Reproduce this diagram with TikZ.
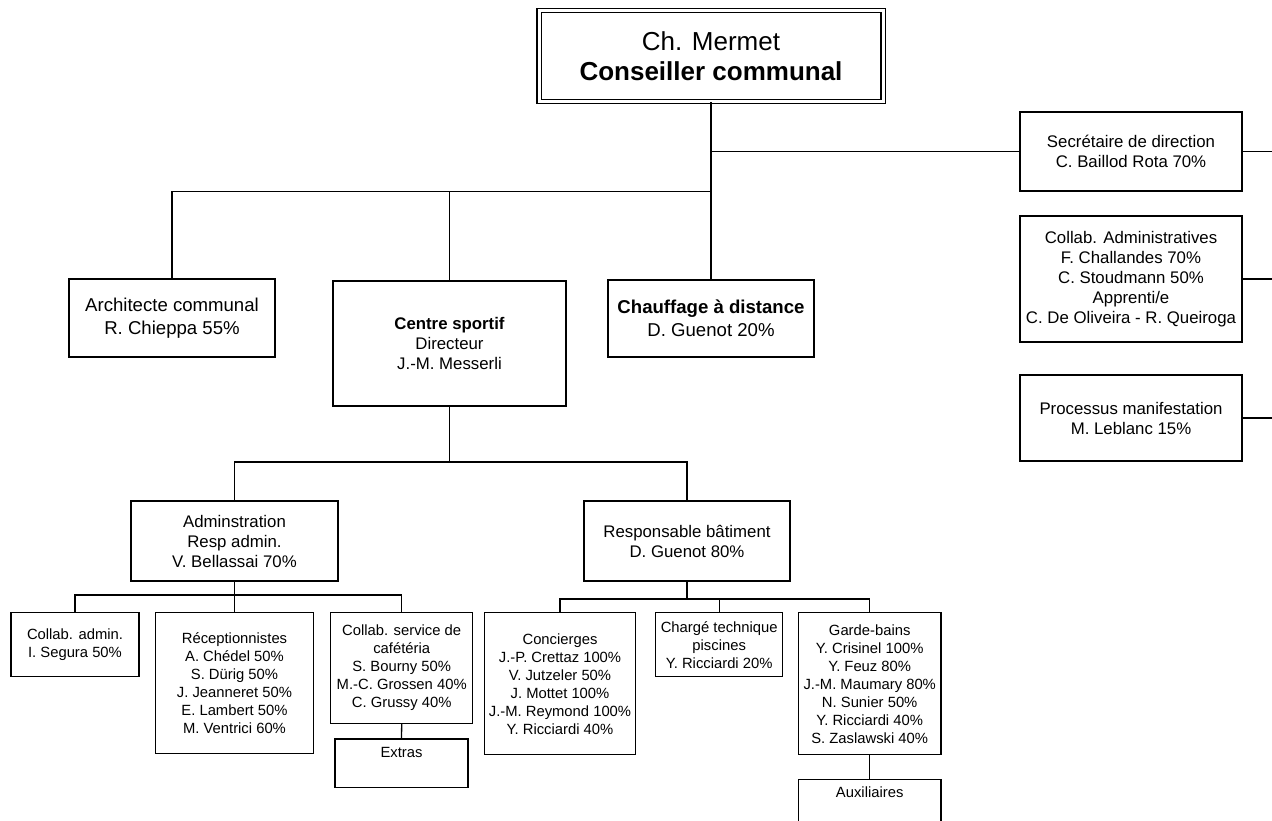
\documentclass[tikz,border=0pt]{standalone}
\usepackage{fontspec}
\setmainfont{Liberation Sans}
\usepackage{tikz}

\tikzset{
  box/.style={draw, line width=1.3pt, align=center, inner sep=1pt},
  link/.style={line width=1.3pt},
  chieftext/.style={font=\fontsize{26}{30}\selectfont},
  rowtwo/.style={font=\fontsize{18.6}{23}\selectfont},
  rowthree/.style={font=\fontsize{16.8}{20}\selectfont},
  leaftext/.style={font=\fontsize{14.8}{18}\selectfont},
}

\begin{document}
\begin{tikzpicture}[x=1pt, y=-1pt]
    \useasboundingbox (0,0) rectangle (1272,820);
    \clip (0,0) rectangle (1272,820);

    % draws head box
    \node[box, chieftext, double, line width=1.2pt, double distance=3pt,
          minimum width=344pt, minimum height=91pt] (chief) at (711,56)
          {Ch. Mermet\\\textbf{Conseiller communal}};

    % draws staff boxes on the right
    \node[box, rowthree, minimum width=222pt, minimum height=79pt] (sec) at (1131,151.5)
          {Secrétaire de direction\\C. Baillod Rota 70\%};
    \node[box, rowthree, minimum width=222pt, minimum height=126pt] (collab) at (1131,279)
          {Collab. Administratives\\F. Challandes 70\%\\C. Stoudmann 50\%\\Apprenti/e\\C. De Oliveira - R. Queiroga};
    \node[box, rowthree, minimum width=222pt, minimum height=86pt] (proc) at (1131,418)
          {Processus manifestation\\M. Leblanc 15\%};

    % draws second row
    \node[box, rowtwo, minimum width=206pt, minimum height=78pt] (arch) at (172,318)
          {Architecte communal\\R. Chieppa 55\%};
    \node[box, rowthree, minimum width=233pt, minimum height=125pt] (sport) at (449.5,343.5)
          {\textbf{Centre sportif}\\Directeur\\J.-M. Messerli};
    \node[box, rowtwo, minimum width=206pt, minimum height=77pt] (chauf) at (711,318.5)
          {\textbf{Chauffage à distance}\\D. Guenot 20\%};

    % draws third row
    \node[box, rowthree, minimum width=207pt, minimum height=80pt] (admin) at (234.5,541)
          {Adminstration\\Resp admin.\\V. Bellassai 70\%};
    \node[box, rowthree, minimum width=206pt, minimum height=80pt] (resp) at (687,541)
          {Responsable bâtiment\\D. Guenot 80\%};

    % draws bottom row
    \node[box, leaftext, minimum width=128pt, minimum height=64pt] (cadm) at (75,644.7)
          {Collab. admin.\\I. Segura 50\%};
    \node[box, leaftext, minimum width=158pt, minimum height=141pt] (recep) at (234.5,683)
          {Réceptionnistes\\A. Chédel 50\%\\S. Dürig 50\%\\J. Jeanneret 50\%\\E. Lambert 50\%\\M. Ventrici 60\%};
    \node[box, leaftext, minimum width=142pt, minimum height=110.6pt] (cafe) at (401.7,668)
          {Collab. service de\\cafétéria\\S. Bourny 50\%\\M.-C. Grossen 40\%\\C. Grussy 40\%};
    \node[box, minimum width=133pt, minimum height=48.3pt,
          label={[leaftext, anchor=north, inner sep=0pt, yshift=-8.5pt]north:Extras}] (extras) at (401.5,763.2) {};
    \node[box, leaftext, minimum width=150.6pt, minimum height=142pt] (conc) at (560,683.7)
          {Concierges\\J.-P. Crettaz 100\%\\V. Jutzeler 50\%\\J. Mottet 100\%\\J.-M. Reymond 100\%\\Y. Ricciardi 40\%};
    \node[box, leaftext, minimum width=127pt, minimum height=64pt] (tech) at (719.2,644.7)
          {Chargé technique\\piscines\\Y. Ricciardi 20\%};
    \node[box, leaftext, minimum width=142.7pt, minimum height=142pt] (garde) at (869.7,683.7)
          {Garde-bains\\Y. Crisinel 100\%\\Y. Feuz 80\%\\J.-M. Maumary 80\%\\N. Sunier 50\%\\Y. Ricciardi 40\%\\S. Zaslawski 40\%};
    \node[box, minimum width=142.7pt, minimum height=60pt,
          label={[leaftext, anchor=north, inner sep=0pt, yshift=-8pt]north:Auxiliaires}] (aux) at (869.7,809.3) {};

    % bus lines and right edge
    \coordinate (bus1) at (711,191.5);
    \coordinate (bus2) at (449.5,462);
    \coordinate (bus3) at (234.5,595);
    \coordinate (bus4) at (687,599);
    \coordinate (rim) at (1272,0);

    % draws connectors
    \draw[link] (chief.south) -- (chauf.north);
    \draw[link] (sec.west) -- (sec.west -| chief.south);
    \draw[link] (arch.north) |- (bus1);
    \draw[link] (sport.north) -- (sport.north |- bus1);
    \draw[link] (sec.east) -- (sec.east -| rim);
    \draw[link] (collab.east) -- (collab.east -| rim);
    \draw[link] (proc.east) -- (proc.east -| rim);
    \draw[link] (sport.south) -- (bus2);
    \draw[link] (admin.north) |- (bus2) -| (resp.north);
    \draw[link] (admin.south) -- (recep.north);
    \draw[link] (cadm.north) |- (bus3) -| (cafe.north);
    \draw[link] (resp.south) -- (bus4);
    \draw[link] (conc.north) |- (bus4) -| (garde.north);
    \draw[link] (tech.north) -- (tech.north |- bus4);
    \draw[link] (cafe.south) -- (extras.north);
    \draw[link] (garde.south) -- (aux.north);
\end{tikzpicture}
\end{document}
